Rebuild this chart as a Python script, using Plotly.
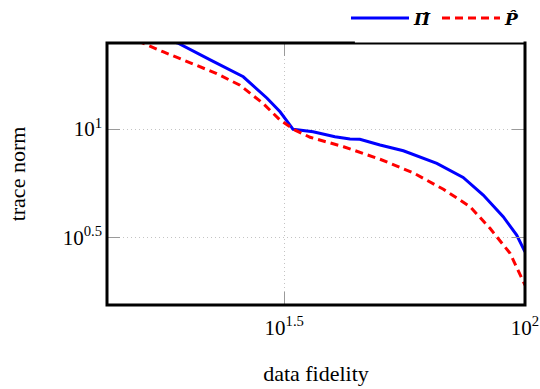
import plotly.graph_objects as go

# data (log-log)
pi_x = [16.6, 19.0, 22.2, 26.0, 29.1, 31.0, 33.0, 36.3, 40.3, 43.3, 45.4, 50.0, 55.9, 65.6, 74.4, 81.9, 90.1, 96.1, 100.0]
pi_y = [27.1, 24.9, 20.8, 17.4, 13.9, 12.0, 9.97, 9.72, 9.22, 8.99, 8.97, 8.44, 7.94, 6.95, 5.99, 4.97, 3.95, 3.25, 2.72]

p_x = [14.8, 16.0, 17.7, 19.5, 22.9, 25.6, 28.6, 31.0, 33.3, 35.8, 42.0, 50.0, 58.6, 67.7, 76.9, 84.6, 93.1, 100.0]
p_y = [26.9, 24.9, 22.7, 20.8, 18.0, 15.9, 13.1, 11.0, 9.89, 9.16, 8.29, 7.26, 6.29, 5.28, 4.39, 3.49, 2.68, 1.91]

x_tickvals = [10 ** 1.5, 100]
x_ticktext = ["10<sup>1.5</sup>", "10<sup>2</sup>"]
y_tickvals = [10 ** 0.5, 10]
y_ticktext = ["10<sup>0.5</sup>", "10<sup>1</sup>"]

FONT = "Liberation Serif"
LEGFONT = "DejaVu Serif"

fig = go.Figure()
fig.add_trace(go.Scatter(x=pi_x, y=pi_y, mode="lines", name="<b><i>Π̂</i></b>",
                         line=dict(color="#0000ff", width=3)))
fig.add_trace(go.Scatter(x=p_x, y=p_y, mode="lines", name="<b><i>P̂</i></b>",
                         line=dict(color="#ff0000", width=3, dash="8px,5px")))

axis_common = dict(
    showline=False, ticks="inside", ticklen=13, tickwidth=1, tickcolor="#9a9a9a",
    mirror="allticks", showgrid=True, gridcolor="#c4c4c4", griddash="1px,3px", gridwidth=1,
    zeroline=False, tickfont=dict(family=FONT, size=21, color="black"),
)

fig.update_xaxes(type="log", range=[1.132, 2.0], tickvals=x_tickvals, ticktext=x_ticktext,
                 ticklabelstandoff=8,
                 title=dict(text="data fidelity", font=dict(family=FONT, size=22, color="black"), standoff=26),
                 **axis_common)
fig.update_yaxes(type="log", range=[0.19, 1.396], tickvals=y_tickvals, ticktext=y_ticktext,
                 ticklabelstandoff=4,
                 title=dict(text="trace norm", font=dict(family=FONT, size=22, color="black"), standoff=30),
                 **axis_common)

fig.add_shape(type="rect", xref="paper", yref="paper", x0=0, y0=0, x1=1, y1=1,
              line=dict(color="black", width=3), layer="above")
# legend box fill overlapping the top frame on the right
fig.add_shape(type="rect", xref="paper", yref="paper", x0=0.593, y0=1.002, x1=0.9965, y1=1.15,
              line=dict(width=0), fillcolor="white", layer="above")

fig.update_layout(
    width=540, height=389,
    margin=dict(l=107, r=15, t=43, b=84, autoexpand=False),
    paper_bgcolor="white", plot_bgcolor="white",
    font=dict(family=FONT, size=20, color="black"),
    showlegend=True,
    legend=dict(orientation="h", x=1.0, xanchor="right", y=1.025, yanchor="bottom",
                bgcolor="rgba(255,255,255,0)", font=dict(family=LEGFONT, size=17),
                itemwidth=58, tracegroupgap=0),
)

fig.write_html("out.html")
